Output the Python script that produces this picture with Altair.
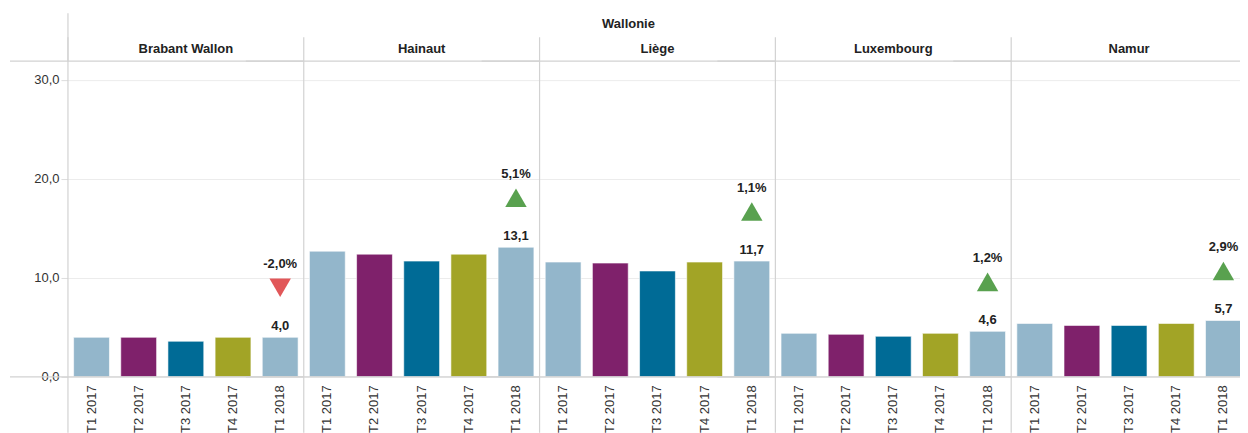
import altair as alt
import pandas as pd

provinces = ["Brabant Wallon", "Hainaut", "Liège", "Luxembourg", "Namur"]
quarters = ["T1 2017", "T2 2017", "T3 2017", "T4 2017", "T1 2018"]
bw = [4.0, 4.0, 3.6, 4.0, 4.0]
hainaut = [12.7, 12.4, 11.7, 12.4, 13.1]
liege = [11.6, 11.5, 10.7, 11.6, 11.7]
luxembourg = [4.4, 4.3, 4.1, 4.4, 4.6]
namur = [5.4, 5.2, 5.2, 5.4, 5.7]
changes = [-2.0, 5.1, 1.1, 1.2, 2.9]
bar_colors = ["#93b6cb", "#7f216b", "#006b96", "#a2a426", "#93b6ca"]

series = [bw, hainaut, liege, luxembourg, namur]
rows = []
for p, vals, ch in zip(provinces, series, changes):
    for q, v in zip(quarters, vals):
        last = q == quarters[-1]
        rows.append({
            "province": p,
            "quarter": q,
            "value": v,
            "vlabel": f"{v:.1f}".replace(".", ",") if last else "",
            "change": ch if last else None,
            "clabel": (f"{ch:.1f}".replace(".", ",") + "%") if last else "",
            "dir": ("up" if ch >= 0 else "down") if last else "",
        })
df = pd.DataFrame(rows)

FONT = "Liberation Sans"
W, H = 236, 316
yscale = alt.Scale(domain=[0, 31.9], nice=False)
LINE = "#d2d2d2"

base = alt.Chart().encode(
    x=alt.X("quarter:N", sort=quarters, title=None,
            scale=alt.Scale(paddingInner=0.24, paddingOuter=0.12),
            axis=alt.Axis(labelAngle=270, labelFontSize=13, labelColor="#333333",
                          labelFont=FONT, ticks=False, domain=False, labelPadding=8,
                          grid=False)),
)

bars = base.mark_bar(stroke="white", strokeWidth=0.6).encode(
    y=alt.Y("value:Q", scale=yscale, title=None,
            axis=alt.Axis(values=[0, 10, 20, 30],
                          labelExpr="replace(format(datum.value,'.1f'),'.',',')",
                          domain=False, tickColor="#dddddd", tickSize=7,
                          labelFontSize=13, labelColor="#333333", labelFont=FONT,
                          labelPadding=2, gridColor="#ececec",
                          minExtent=60, maxExtent=60)),
    color=alt.Color("quarter:N", sort=quarters,
                    scale=alt.Scale(domain=quarters, range=bar_colors), legend=None),
)

one = alt.Chart().transform_filter(alt.datum.vlabel != "")

vdiv = one.mark_rule(color=LINE, strokeWidth=1.2).encode(
    x=alt.value(0), y=alt.value(-24), y2=alt.value(H + 56))
vleft = one.transform_filter(alt.datum.province == provinces[0]).mark_rule(
    color=LINE, strokeWidth=1.2).encode(x=alt.value(0), y=alt.value(-48), y2=alt.value(0))
htop = one.mark_rule(color=LINE, strokeWidth=1.2).encode(
    x=alt.value(-58), x2=alt.value(W), y=alt.value(0))
hbot = one.mark_rule(color=LINE, strokeWidth=1.2).encode(
    x=alt.value(-58), x2=alt.value(W), y=alt.value(H))

vtext = base.transform_filter(alt.datum.vlabel != "").mark_text(
    baseline="bottom", dy=-4, fontWeight="bold", fontSize=13, font=FONT, color="#222222"
).encode(y=alt.Y("value:Q", scale=yscale), text="vlabel:N")

tri = base.transform_filter(alt.datum.vlabel != "").transform_calculate(
    ty="datum.value + 5"
).mark_point(filled=True, size=460, opacity=1).encode(
    y=alt.Y("ty:Q", scale=yscale),
    shape=alt.Shape("dir:N", scale=alt.Scale(domain=["up", "down"],
                                             range=["triangle-up", "triangle-down"]), legend=None),
    color=alt.Color("dir:N", scale=alt.Scale(domain=["up", "down"],
                                             range=["#59a14f", "#e15759"]), legend=None),
)

ctext = base.transform_filter(alt.datum.vlabel != "").transform_calculate(
    cy="datum.value + 7.4"
).mark_text(
    baseline="middle", fontWeight="bold", fontSize=13, font=FONT, color="#222222"
).encode(y=alt.Y("cy:Q", scale=yscale), text="clabel:N")

layer = alt.layer(bars, vdiv, vleft, htop, hbot, vtext, tri, ctext).resolve_scale(
    color="independent").properties(width=W, height=H)

chart = layer.facet(
    data=df,
    column=alt.Column("province:N", sort=provinces,
                      header=alt.Header(title="Wallonie", titleFontSize=13, titleFontWeight="bold",
                                        titleFont=FONT, titleColor="#222222", titlePadding=2,
                                        labelFontSize=13, labelFontWeight="bold", labelFont=FONT,
                                        labelColor="#222222", labelPadding=5)),
    spacing=0,
    bounds="flush",
).properties(padding={"left": 0, "top": 4, "right": -8, "bottom": 0}).configure_view(
    stroke=None
).configure_axisX(grid=False)

chart.save("out.html", embed_options={"renderer": "svg", "actions": False})
